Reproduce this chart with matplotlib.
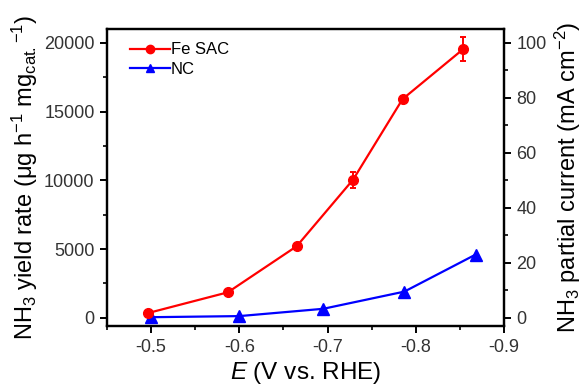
import matplotlib
matplotlib.use("Agg")
import matplotlib.pyplot as plt
from matplotlib.ticker import MultipleLocator
from matplotlib.lines import Line2D

plt.rcParams['font.family'] = ['Liberation Sans', 'DejaVu Sans']
plt.rcParams['mathtext.fontset'] = 'custom'
plt.rcParams['mathtext.rm'] = 'Liberation Sans'
plt.rcParams['mathtext.it'] = 'Liberation Sans:italic'

fe_x = [-0.497, -0.587, -0.665, -0.729, -0.785, -0.854]
fe_y = [350, 1850, 5200, 10050, 15900, 19550]
fe_err = [120, 150, 200, 580, 200, 900]

nc_x = [-0.500, -0.600, -0.695, -0.787, -0.868]
nc_y = [40, 120, 650, 1900, 4600]

fig = plt.figure(figsize=(5.81, 3.90), dpi=100)
ax = fig.add_axes([107/581, 1-326/390, (504-107)/581, (326-29)/390])

ax.errorbar(fe_x, fe_y, yerr=fe_err, color='#ff0000', marker='o', ms=7,
            lw=1.6, capsize=2.5, elinewidth=1.4, capthick=1.4)
ax.plot(nc_x, nc_y, color='#0000ff', marker='^', ms=8, lw=1.6)

ax.set_xlim(-0.45, -0.9)
ax.set_ylim(-600, 21000)
ax.xaxis.set_minor_locator(MultipleLocator(0.05))
ax.yaxis.set_major_locator(MultipleLocator(5000))
ax.yaxis.set_minor_locator(MultipleLocator(2500))
ax.set_xticks([-0.5, -0.6, -0.7, -0.8, -0.9])
ax.set_xticklabels(['-0.5', '-0.6', '-0.7', '-0.8', '-0.9'])

ax2 = ax.twinx()
ax2.set_ylim(-3, 105)
ax2.yaxis.set_major_locator(MultipleLocator(20))
ax2.yaxis.set_minor_locator(MultipleLocator(10))

for a in (ax, ax2):
    for s in a.spines.values():
        s.set_linewidth(1.6)
    a.tick_params(which='major', direction='out', length=5, width=1.4, labelsize=13,
                  colors='black', labelcolor='#333333', pad=4)
    a.tick_params(which='minor', direction='out', length=3, width=1.2)

ax.set_xlabel(r'$\mathit{E}$ (V vs. RHE)', fontsize=17.5, labelpad=3)
ax.set_ylabel(r'NH$_3$ yield rate ($\mathrm{\mu}$g h$^{-1}$ mg$_{\mathrm{cat.}}$$^{-1}$)', fontsize=17, labelpad=3)
ax2.set_ylabel(r'NH$_3$ partial current (mA cm$^{-2}$)', fontsize=17, labelpad=4)

handles = [Line2D([], [], color='#ff0000', marker='o', ms=6, lw=1.6),
           Line2D([], [], color='#0000ff', marker='^', ms=6, lw=1.6)]
ax.legend(handles, ['Fe SAC', 'NC'], loc='upper left', bbox_to_anchor=(23/397, 0.955), frameon=False,
          fontsize=12, handlelength=2.4, handletextpad=0.05,
          labelspacing=0.25, borderpad=0.0, borderaxespad=0.0)

fig.savefig('out.png', dpi=100)
